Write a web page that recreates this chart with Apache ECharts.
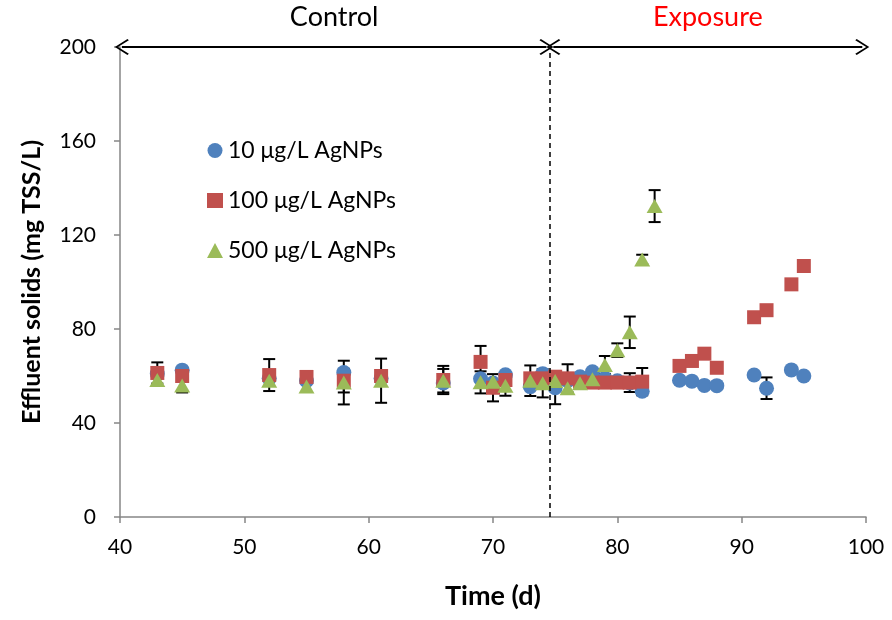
<!DOCTYPE html>
<html>
<head>
<meta charset="utf-8">
<script src="https://cdn.jsdelivr.net/npm/echarts@6/dist/echarts.min.js"></script>
<style>
    html, body { margin: 0; padding: 0; background: #fff; }
    #chart { width: 892px; height: 620px; }
</style>
</head>
<body>
<div id="chart"></div>
<script>
// 数据：时间(d) 和 出水固体 (mg TSS/L)
const days10 = [43, 45, 52, 55, 58, 61, 66, 69, 70, 71, 73, 74, 75, 76, 77, 78, 79, 80, 81, 82, 85, 86, 87, 88, 91, 92, 94, 95];
const solids10 = [61, 62.5, 59, 58, 61.5, 59, 57, 58.8, 57, 60.5, 55.5, 61, 55, 58, 59.7, 61.8, 59, 58, 57, 53.5, 58.2, 57.8, 56, 55.9, 60.4, 54.8, 62.6, 60];
const err10 = [0, 0, 0, 0, 0, 0, 0, 0, 0, 0, 0, 0, 7, 0, 0, 0, 0, 0, 0, 0, 0, 0, 0, 0, 0, 4.6, 0, 0];

const days100 = [43, 45, 52, 55, 58, 61, 66, 69, 70, 71, 73, 74, 75, 76, 77, 78, 79, 80, 81, 82, 85, 86, 87, 88, 91, 92, 94, 95];
const solids100 = [61.3, 60, 60.4, 59.6, 58, 60, 58.3, 66, 55, 58.3, 59, 59, 59.7, 59, 57.6, 57.2, 57.2, 57.2, 57.2, 57.6, 64.3, 66.4, 69.5, 63.5, 85, 88, 99, 106.8];
const err100 = [4.5, 0, 6.8, 0, 5, 0, 6, 6.8, 5.8, 0, 0, 0, 0, 6, 0, 0, 0, 0, 4, 5.8, 0, 0, 0, 0, 0, 0, 0, 0];

const days500 = [43, 45, 52, 55, 58, 61, 66, 69, 70, 71, 73, 74, 75, 76, 77, 78, 79, 80, 81, 82, 83];
const solids500 = [58.3, 56, 58, 55.5, 57.2, 58, 58, 57.3, 57.6, 55.9, 58, 56.9, 57.9, 54.8, 56.9, 58.6, 64.7, 71, 78.6, 109.6, 132.3];
const err500 = [0, 3, 0, 0, 9.3, 9.4, 5, 4.7, 0, 4.3, 6.5, 6, 0, 0, 0, 0, 3.8, 2.9, 6.7, 2, 6.8];

const seriesNames = ['10 μg/L AgNPs', '100 μg/L AgNPs', '500 μg/L AgNPs'];
const xTicks = [40, 100, 10];
const yTicks = [0, 200, 40];

// 分期：对照 / 暴露
const exposureStart = 74.6;
const periodNames = ['Control', 'Exposure'];

const FONT = 'Lato, "Open Sans", sans-serif';
const COLORS = ['#4F81BD', '#C0504D', '#9BBB59'];

// 组合成 [x, y] 数据
function pairs(days, vals) {
    return days.map(function (d, i) { return [d, vals[i]]; });
}

// 误差棒数据，只保留有误差的点
function errPoints(days, vals, errs) {
    let out = [];
    for (let i = 0; i < days.length; i++) {
        if (errs[i] > 0) {
            out.push([days[i], vals[i], errs[i]]);
        }
    }
    return out;
}

// 画误差棒
function renderErrorBar(params, api) {
    let x = api.value(0);
    let y = api.value(1);
    let e = api.value(2);
    let hi = api.coord([x, y + e]);
    let lo = api.coord([x, y - e]);
    let cap = 6;
    let style = { stroke: '#000', lineWidth: 2 };
    return {
        type: 'group',
        children: [
            { type: 'line', shape: { x1: hi[0], y1: hi[1], x2: lo[0], y2: lo[1] }, style: style },
            { type: 'line', shape: { x1: hi[0] - cap, y1: hi[1], x2: hi[0] + cap, y2: hi[1] }, style: style },
            { type: 'line', shape: { x1: lo[0] - cap, y1: lo[1], x2: lo[0] + cap, y2: lo[1] }, style: style }
        ]
    };
}

function errSeries(data) {
    return {
        type: 'custom',
        renderItem: renderErrorBar,
        data: data,
        silent: true,
        encode: { x: 0, y: 1 }
    };
}

// 开口箭头
const CHEVRON = 'path://M5,0 L10,9 L9.2,10 L5,2.2 L0.8,10 L0,9 Z';

const chart = echarts.init(document.getElementById('chart'));

const option = {
    animation: false,
    textStyle: { fontFamily: FONT },
    grid: { left: 120, right: 26, top: 47, bottom: 103 },
    legend: {
        data: seriesNames,
        orient: 'vertical',
        left: 202,
        top: 134,
        itemGap: 27,
        itemWidth: 16,
        itemHeight: 15,
        textStyle: { fontSize: 23, color: '#000', fontFamily: FONT }
    },
    xAxis: {
        type: 'value',
        min: xTicks[0],
        max: xTicks[1],
        interval: xTicks[2],
        name: 'Time (d)',
        nameLocation: 'middle',
        nameGap: 66,
        nameTextStyle: { fontSize: 27, fontWeight: 'bold', color: '#000' },
        axisLine: { lineStyle: { color: '#868686', width: 1.5 } },
        axisTick: { show: true, inside: false, length: 6, lineStyle: { color: '#868686', width: 1.5 } },
        axisLabel: { fontSize: 21, color: '#000', margin: 20 },
        splitLine: { show: false }
    },
    yAxis: {
        type: 'value',
        min: yTicks[0],
        max: yTicks[1],
        interval: yTicks[2],
        name: 'Effluent solids (mg TSS/L)',
        nameLocation: 'middle',
        nameGap: 76,
        nameTextStyle: { fontSize: 25, fontWeight: 'bold', color: '#000' },
        axisLine: { show: true, lineStyle: { color: '#868686', width: 1.5 } },
        axisTick: { show: true, inside: false, length: 6, lineStyle: { color: '#868686', width: 1.5 } },
        axisLabel: { fontSize: 21, color: '#000', margin: 24 },
        splitLine: { show: false }
    },
    series: [
        {
            // 分期箭头和虚线
            type: 'line',
            data: [],
            silent: true,
            markLine: {
                silent: true,
                animation: false,
                data: [
                    [
                        { coord: [40.15, 200], symbol: CHEVRON, symbolSize: [16, 14], name: periodNames[0] },
                        { coord: [exposureStart - 0.3, 200], symbol: CHEVRON, symbolSize: [16, 14] }
                    ],
                    [
                        { coord: [exposureStart + 0.25, 200], symbol: CHEVRON, symbolSize: [16, 14], name: periodNames[1],
                          label: { color: '#FF0000' } },
                        { coord: [99.7, 200], symbol: CHEVRON, symbolSize: [16, 14] }
                    ],
                    [
                        { coord: [exposureStart, 0], symbol: 'none', lineStyle: { type: [5, 4], width: 1.5 },
                          label: { show: false } },
                        { coord: [exposureStart, 200], symbol: 'none' }
                    ]
                ],
                lineStyle: { color: '#000', width: 1.8, type: 'solid' },
                label: {
                    show: true,
                    position: 'insideMiddleTop',
                    formatter: '{b}',
                    fontSize: 27,
                    color: '#000',
                    fontFamily: FONT,
                    distance: 16
                }
            }
        },
        {
            name: seriesNames[0],
            type: 'scatter',
            symbol: 'circle',
            symbolSize: 15,
            itemStyle: { color: COLORS[0], opacity: 1 },
            data: pairs(days10, solids10)
        },
        errSeries(errPoints(days10, solids10, err10)),
        {
            name: seriesNames[1],
            type: 'scatter',
            symbol: 'rect',
            symbolSize: 14,
            itemStyle: { color: COLORS[1], opacity: 1 },
            data: pairs(days100, solids100)
        },
        errSeries(errPoints(days100, solids100, err100)),
        {
            name: seriesNames[2],
            type: 'scatter',
            symbol: 'triangle',
            symbolSize: [16, 14],
            itemStyle: { color: COLORS[2], opacity: 1 },
            data: pairs(days500, solids500)
        },
        errSeries(errPoints(days500, solids500, err500))
    ]
};

chart.setOption(option);
</script>
</body>
</html>
